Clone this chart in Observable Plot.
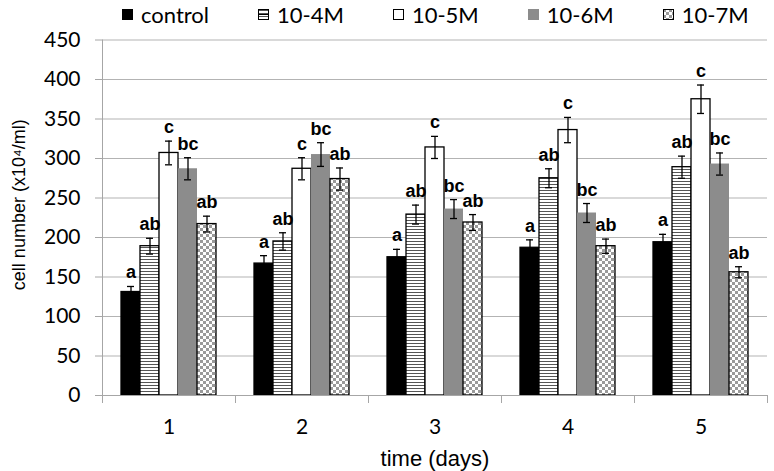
<!DOCTYPE html>
<html><head><meta charset="utf-8">
<script src="https://cdn.jsdelivr.net/npm/d3@7"></script>
<script src="https://cdn.jsdelivr.net/npm/@observablehq/plot@0.6"></script>
<style>
body{margin:0;background:#fff;width:774px;height:471px;overflow:hidden;font-family:Lato,sans-serif;position:relative}
#legend{position:absolute;left:0;top:0;height:28px;width:774px;display:flex;flex-wrap:nowrap;align-items:center;padding-left:122px;font-size:22px;color:#000;box-sizing:border-box;white-space:nowrap;z-index:2}
.item{display:flex;align-items:center;margin-right:49px;flex-shrink:0;white-space:nowrap}
.item svg{margin-right:8px;flex-shrink:0}
#chart svg{display:block}
</style></head><body>
<svg width="0" height="0" style="position:absolute">
<defs>
<pattern id="hstripe" patternUnits="userSpaceOnUse" width="6" height="3"><rect width="6" height="3" fill="#fff"/><rect y="1" width="6" height="1" fill="#555"/></pattern>
<pattern id="checker" patternUnits="userSpaceOnUse" width="6" height="6"><rect width="6" height="6" fill="#fff"/><rect width="3" height="3" fill="#9a9a9a"/><rect x="3" y="3" width="3" height="3" fill="#9a9a9a"/></pattern>
</defs></svg>
<div id="chart"></div>
<div id="legend"></div>
<script>
const days = ["1", "2", "3", "4", "5"];
const series = ["control", "10-4M", "10-5M", "10-6M", "10-7M"];
const yTicks = [0, 50, 100, 150, 200, 250, 300, 350, 400, 450];

const controlMean = [131, 167, 175, 187, 194];
const m4Mean      = [189, 195, 229, 275, 289];
const m5Mean      = [307, 287, 314, 336, 375];
const m6Mean      = [287, 305, 236, 231, 293];
const m7Mean      = [217, 274, 219, 189, 156];

const controlErr = [7, 10, 10, 10, 10];
const m4Err      = [10, 11, 12, 12, 14];
const m5Err      = [15, 14, 14, 16, 18];
const m6Err      = [14, 15, 12, 12, 14];
const m7Err      = [10, 14, 10, 9, 7];

const controlSig = ["a", "a", "a", "a", "a"];
const m4Sig      = ["ab", "ab", "ab", "ab", "ab"];
const m5Sig      = ["c", "c", "c", "c", "c"];
const m6Sig      = ["bc", "bc", "bc", "bc", "bc"];
const m7Sig      = ["ab", "ab", "ab", "ab", "ab"];

const yTitle = "cell number (x10\u2074/ml)";
const xTitle = "time (days)";

const means = [controlMean, m4Mean, m5Mean, m6Mean, m7Mean];
const errs = [controlErr, m4Err, m5Err, m6Err, m7Err];
const sigs = [controlSig, m4Sig, m5Sig, m6Sig, m7Sig];
const fills = ["#000", "url(#hstripe)", "#fff", "#8c8c8c", "url(#checker)"];
const strokes = ["#000", "#000", "#000", "none", "#000"];

const rows = series.flatMap((s, i) => days.map((d, j) => ({
  day: d, series: s, mean: means[i][j], err: errs[i][j], sig: sigs[i][j]
})));

// legend
const legend = document.getElementById("legend");
series.forEach((s, i) => {
  const item = document.createElement("div");
  item.className = "item";
  const extra = i === 1 ? '<line x1="0.5" x2="10.5" y1="5.5" y2="5.5" stroke="#000" stroke-width="1"/>' : "";
  item.innerHTML = `<svg width="11" height="11"><rect x="0.5" y="0.5" width="10" height="10" fill="${fills[i]}" stroke="${strokes[i] === "none" ? fills[i] : "#000"}"/>${extra}</svg><span>${s}</span>`;
  legend.appendChild(item);
});

const axisGray = "#a6a6a6";
const chart = Plot.plot({
  width: 774,
  height: 471,
  marginLeft: 100,
  marginRight: 5,
  marginTop: 39.5,
  marginBottom: 76,
  style: {fontFamily: "Lato, sans-serif", fontSize: "21px", background: "#fff", color: "#000"},
  fx: {domain: days, padding: 0, label: null},
  x: {domain: series, paddingInner: 0, paddingOuter: 0.84, axis: null},
  y: {domain: [0, 450]},
  marks: [
    Plot.gridY(yTicks, {stroke: "#b3b3b3", strokeOpacity: 1}),
    ...series.map((s, i) => Plot.barY(rows.filter(r => r.series === s), {
      fx: "day", x: "series", y: "mean",
      fill: fills[i], stroke: strokes[i], strokeWidth: 1.3
    })),
    Plot.ruleY([0], {stroke: axisGray}),
    Plot.frame({anchor: "left", facetAnchor: "left", stroke: axisGray, insetBottom: -7}),
    Plot.frame({anchor: "left", stroke: axisGray, insetTop: 355.5, insetBottom: -7}),
    Plot.frame({anchor: "right", stroke: axisGray, insetTop: 355.5, insetBottom: -7}),
    Plot.ruleX(rows, {fx: "day", x: "series", y1: d => d.mean - d.err, y2: d => d.mean + d.err, stroke: "#000", strokeWidth: 1.3}),
    Plot.tickY(rows, {fx: "day", x: "series", y: d => d.mean + d.err, inset: 6, stroke: "#000", strokeWidth: 1.3}),
    Plot.tickY(rows, {fx: "day", x: "series", y: d => d.mean - d.err, inset: 6, stroke: "#000", strokeWidth: 1.3}),
    Plot.text(rows, {fx: "day", x: "series", y: d => d.mean + d.err, text: "sig", dy: -8, lineAnchor: "bottom",
      fontFamily: "Liberation Sans, Arial, sans-serif", fontWeight: "bold", fontSize: 18, fill: "#000"}),
    Plot.axisY(yTicks, {tickSize: 7, tickPadding: 15, stroke: axisGray, fill: "#000", fontSize: 21, label: null}),
    Plot.axisFx({anchor: "bottom", tickSize: 0, tickPadding: 24, fontSize: 21, label: null}),
    Plot.text([yTitle], {facet: "super", frameAnchor: "left", textAnchor: "middle", rotate: -90, dx: -83, dy: -13, lineAnchor: "middle",
      fontFamily: "Liberation Sans, Arial, sans-serif", fontSize: 18, fill: "#000"}),
    Plot.text([xTitle], {facet: "super", frameAnchor: "bottom", dy: 70, lineAnchor: "bottom",
      fontFamily: "Liberation Sans, Arial, sans-serif", fontSize: 22, fill: "#000"})
  ]
});
document.getElementById("chart").appendChild(chart);
</script>
</body></html>
